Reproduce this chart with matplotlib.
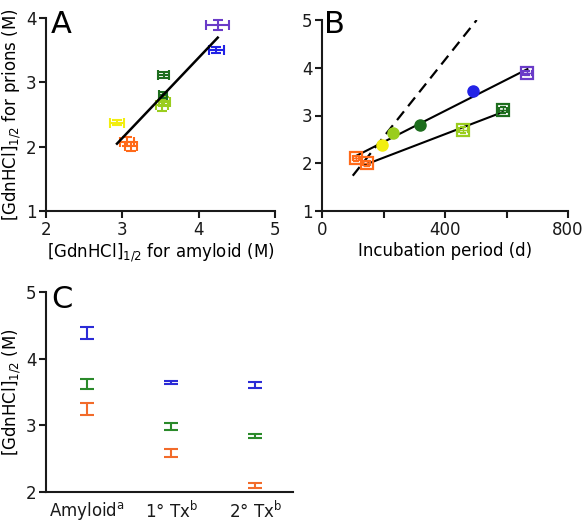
import numpy as np
import matplotlib
matplotlib.use("Agg")
import matplotlib.pyplot as plt

plt.rcParams['font.family'] = ['DejaVu Sans']
plt.rcParams['mathtext.fontset'] = 'dejavusans'

# ---------------- Panel A data ----------------
a_colors = ['#FF6A1A', '#FF6A1A', '#F2EE10', '#9ACD1E', '#9ACD1E',
            '#1E6E1E', '#1E6E1E', '#2222E6', '#6A3BC8']
a_amyloid = [3.06, 3.11, 2.93, 3.52, 3.55, 3.54, 3.53, 4.23, 4.25]
a_amyloid_err = [0.09, 0.08, 0.09, 0.08, 0.07, 0.07, 0.05, 0.10, 0.15]
a_prion = [2.08, 2.01, 2.37, 2.64, 2.70, 3.11, 2.80, 3.50, 3.89]
a_prion_err = [0.07, 0.07, 0.04, 0.08, 0.07, 0.05, 0.05, 0.05, 0.08]

# ---------------- Panel B data ----------------
b_circ_days = [194, 232, 319, 490]
b_circ_gdn = [2.38, 2.64, 2.80, 3.51]
b_circ_colors = ['#F2EE10', '#9ACD1E', '#1E6E1E', '#2222E6']

b_sq_days = [110, 145, 460, 588, 668]
b_sq_gdn = [2.10, 2.00, 2.69, 3.12, 3.89]
b_sq_colors = ['#FF6A1A', '#FF6A1A', '#9ACD1E', '#1E6E1E', '#6A3BC8']
b_sq_xerr = [10, 12, 14, 12, 14]
b_sq_yerr = [0.05, 0.05, 0.06, 0.06, 0.05]

# fit groups
upper_days = [110, 194, 232, 319, 490, 668]
upper_gdn = [2.10, 2.38, 2.64, 2.80, 3.51, 3.89]
lower_days = [145, 460, 588]
lower_gdn = [2.00, 2.69, 3.12]
dashed_slope = 0.00809
dashed_intercept = 0.93
dashed_days = [100, 503]

# ---------------- Panel C data ----------------
c_categories = ['Amyloid$^{\\mathrm{a}}$', '1° Tx$^{\\mathrm{b}}$', '2° Tx$^{\\mathrm{b}}$']
c_blue = [4.38, 3.645, 3.605]
c_blue_err = [0.09, 0.025, 0.045]
c_green = [3.62, 2.98, 2.84]
c_green_err = [0.08, 0.05, 0.03]
c_orange = [3.25, 2.585, 2.10]
c_orange_err = [0.09, 0.06, 0.04]
c_colors = ['#2B2BD6', '#2A8A2A', '#F26B2A']

W, H = 584, 523
FS = 12
fig = plt.figure(figsize=(W / 100, H / 100), dpi=100)


def rect(l, t, r, b):
    return [l / W, 1 - b / H, (r - l) / W, (b - t) / H]


def style(ax):
    for s in ['top', 'right']:
        ax.spines[s].set_visible(False)
    for s in ['left', 'bottom']:
        ax.spines[s].set_linewidth(1.5)
        ax.spines[s].set_color('#1a1a1a')
    ax.tick_params(width=1.5, length=5, labelsize=FS, pad=2, colors='#1a1a1a')


def letter(x, y, s):
    fig.text(x / W, 1 - y / H, s, fontsize=22, va='top', ha='left')


# Panel A
axA = fig.add_axes(rect(46, 18, 275, 211))
style(axA)
for x, xe, y, ye, c in zip(a_amyloid, a_amyloid_err, a_prion, a_prion_err, a_colors):
    axA.errorbar(x, y, xerr=xe, yerr=ye, fmt='none', ecolor=c, elinewidth=1.5,
                 capsize=3.5, capthick=1.5)
cA = np.polyfit(a_amyloid, a_prion, 1)
xs = np.array([min(a_amyloid), max(a_amyloid)])
axA.plot(xs, np.polyval(cA, xs), color='black', lw=1.8)
axA.set_xlim(2, 5)
axA.set_ylim(1, 4)
axA.set_xticks([2, 3, 4, 5])
axA.set_yticks([1, 2, 3, 4])
axA.set_xlabel('[GdnHCl]$_{1/2}$ for amyloid (M)', fontsize=FS, labelpad=2)
axA.set_ylabel('[GdnHCl]$_{1/2}$ for prions (M)', fontsize=FS, labelpad=2)
letter(51, 10, 'A')

# Panel B
axB = fig.add_axes(rect(322, 20, 568, 211))
style(axB)
xs_d = np.array(dashed_days)
axB.plot(xs_d, dashed_slope * xs_d + dashed_intercept, color='black', lw=1.6,
         ls=(0, (5, 3)))
cU = np.polyfit(upper_days, upper_gdn, 1)
xu = np.array([min(upper_days), max(upper_days)])
axB.plot(xu, np.polyval(cU, xu), color='black', lw=1.5)
cL = np.polyfit(lower_days, lower_gdn, 1)
xl = np.array([min(lower_days) - 8, max(lower_days)])
axB.plot(xl, np.polyval(cL, xl), color='black', lw=1.5)
for x, y, c in zip(b_circ_days, b_circ_gdn, b_circ_colors):
    axB.errorbar(x, y, xerr=10, yerr=0.05, fmt='o', ms=8, mfc=c, mec=c,
                 ecolor='white', elinewidth=0.8, capsize=2, capthick=0.8)
for x, y, xe, ye, c in zip(b_sq_days, b_sq_gdn, b_sq_xerr, b_sq_yerr, b_sq_colors):
    axB.errorbar(x, y, xerr=xe, yerr=ye, fmt='s', ms=8, mfc='none', mec=c, mew=1.6,
                 ecolor=c, elinewidth=1.0, capsize=2, capthick=1.0)
axB.set_xlim(0, 800)
axB.set_ylim(1, 5)
axB.set_xticks([0, 200, 400, 600, 800])
axB.set_xticklabels(['0', '', '400', '', '800'])
axB.set_yticks([1, 2, 3, 4, 5])
axB.set_xlabel('Incubation period (d)', fontsize=FS, labelpad=2)
letter(324, 10, 'B')

# Panel C
axC = fig.add_axes(rect(46, 292, 293, 492))
style(axC)
pos = np.arange(len(c_categories))
for vals, errs, c in zip([c_blue, c_green, c_orange],
                         [c_blue_err, c_green_err, c_orange_err], c_colors):
    axC.errorbar(pos, vals, yerr=errs, fmt='none', ecolor=c, elinewidth=1.5,
                 capsize=5, capthick=1.5)
axC.set_xlim(-0.49, 2.45)
axC.set_ylim(2, 5)
axC.set_yticks([2, 3, 4, 5])
axC.set_xticks(pos)
axC.set_xticklabels(c_categories)
axC.tick_params(axis='x', length=0, pad=6)
axC.set_ylabel('[GdnHCl]$_{1/2}$ (M)', fontsize=FS, labelpad=2)
letter(51, 285, 'C')

fig.savefig('out.png', dpi=100)
